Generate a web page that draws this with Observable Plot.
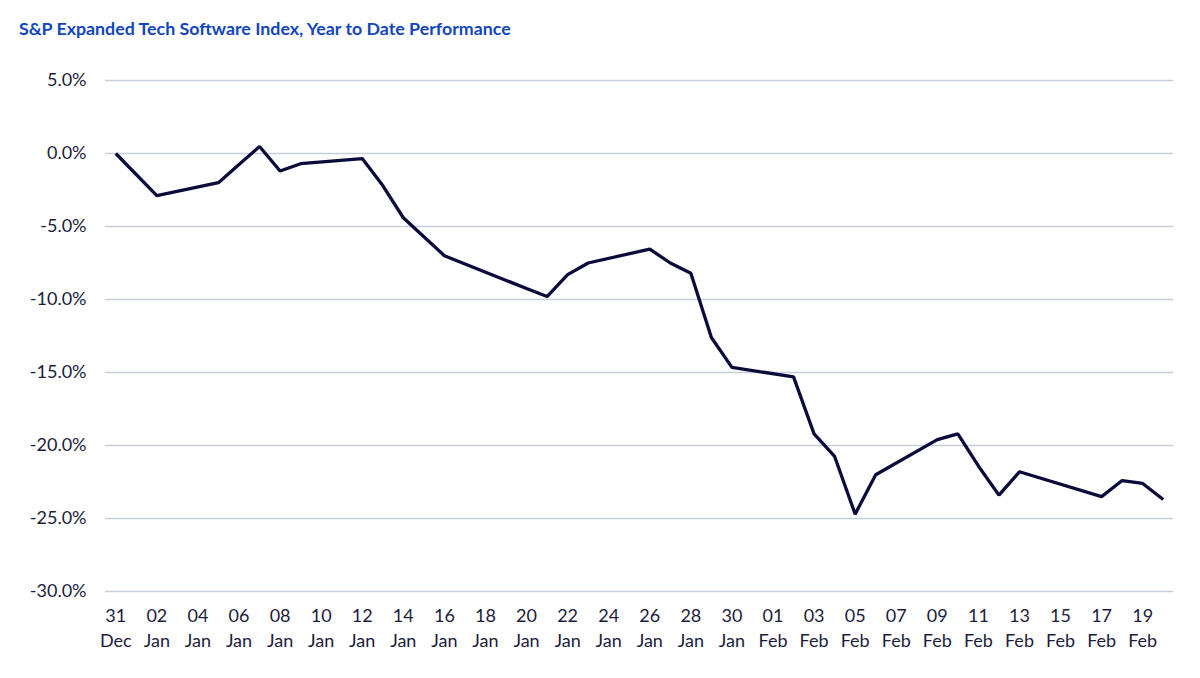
<!DOCTYPE html>
<html>
<head>
<meta charset="utf-8">
<script src="https://cdn.jsdelivr.net/npm/d3@7"></script>
<script src="https://cdn.jsdelivr.net/npm/@observablehq/plot@0.6"></script>
<style>
  html, body { margin: 0; padding: 0; background: #fff; }
  #title {
    font-family: Lato, "Open Sans", sans-serif;
    font-weight: bold;
    font-size: 17.8px;
    line-height: 20px;
    color: #1246bd;
    padding: 18px 0 0 19px;
    height: 32px;
    box-sizing: content-box;
  }
  #chart svg { display: block; }
</style>
</head>
<body>
<div id="title">S&amp;P Expanded Tech Software Index, Year to Date Performance</div>
<div id="chart"></div>
<script>
const dates = [
  "2025-12-31","2026-01-02","2026-01-05","2026-01-06","2026-01-07","2026-01-08","2026-01-09",
  "2026-01-12","2026-01-13","2026-01-14","2026-01-15","2026-01-16","2026-01-20","2026-01-21",
  "2026-01-22","2026-01-23","2026-01-26","2026-01-27","2026-01-28","2026-01-29","2026-01-30",
  "2026-02-02","2026-02-03","2026-02-04","2026-02-05","2026-02-06","2026-02-09","2026-02-10",
  "2026-02-11","2026-02-12","2026-02-13","2026-02-17","2026-02-18","2026-02-19","2026-02-20"
];
const values = [
  0.0, -2.88, -2.0, -0.75, 0.48, -1.2, -0.7,
  -0.35, -2.2, -4.4, -5.7, -7.0, -9.25, -9.8,
  -8.3, -7.5, -6.55, -7.5, -8.2, -12.6, -14.65,
  -15.3, -19.2, -20.75, -24.7, -22.0, -19.6, -19.2,
  -21.4, -23.4, -21.8, -23.5, -22.4, -22.6, -23.7
];
const tickDates = [
  "2025-12-31","2026-01-02","2026-01-04","2026-01-06","2026-01-08","2026-01-10","2026-01-12",
  "2026-01-14","2026-01-16","2026-01-18","2026-01-20","2026-01-22","2026-01-24","2026-01-26",
  "2026-01-28","2026-01-30","2026-02-01","2026-02-03","2026-02-05","2026-02-07","2026-02-09",
  "2026-02-11","2026-02-13","2026-02-15","2026-02-17","2026-02-19"
];
const yTicks = [5, 0, -5, -10, -15, -20, -25, -30];
const xDomain = ["2025-12-30T12:00:00Z", "2026-02-20T12:00:00Z"];
const yDomain = [-30, 5];

const data = dates.map((d, i) => ({date: new Date(d + "T00:00:00Z"), value: values[i]}));
const ticks = tickDates.map(d => new Date(d + "T00:00:00Z"));

const textColor = "#1c1c3c";
const fmtDay = d3.utcFormat("%d");
const fmtMon = d3.utcFormat("%b");

const chart = Plot.plot({
  width: 1200,
  height: 628,
  marginLeft: 105,
  marginRight: 27,
  marginTop: 30,
  marginBottom: 87,
  style: {fontFamily: "Lato, 'Open Sans', sans-serif", fontSize: "18px", color: textColor, background: "#fff"},
  x: {type: "utc", domain: xDomain.map(d => new Date(d))},
  y: {domain: yDomain},
  marks: [
    Plot.gridY(yTicks, {stroke: "#c5cfdc", strokeOpacity: 1, strokeWidth: 1.3}),
    Plot.axisY(yTicks, {tickSize: 0, tickPadding: 19, tickFormat: d => d.toFixed(1) + "%", fontSize: 18, fill: textColor, label: null}),
    Plot.axisX(ticks, {tickSize: 0, tickPadding: 12, tickFormat: d => fmtDay(d) + "\n" + fmtMon(d), lineHeight: 1.42, fontSize: 18, fill: textColor, label: null}),
    Plot.line(data, {x: "date", y: "value", stroke: "#0b0b3b", strokeWidth: 3.3, strokeLinejoin: "miter", strokeLinecap: "butt"})
  ]
});
document.getElementById("chart").appendChild(chart);
</script>
</body>
</html>
